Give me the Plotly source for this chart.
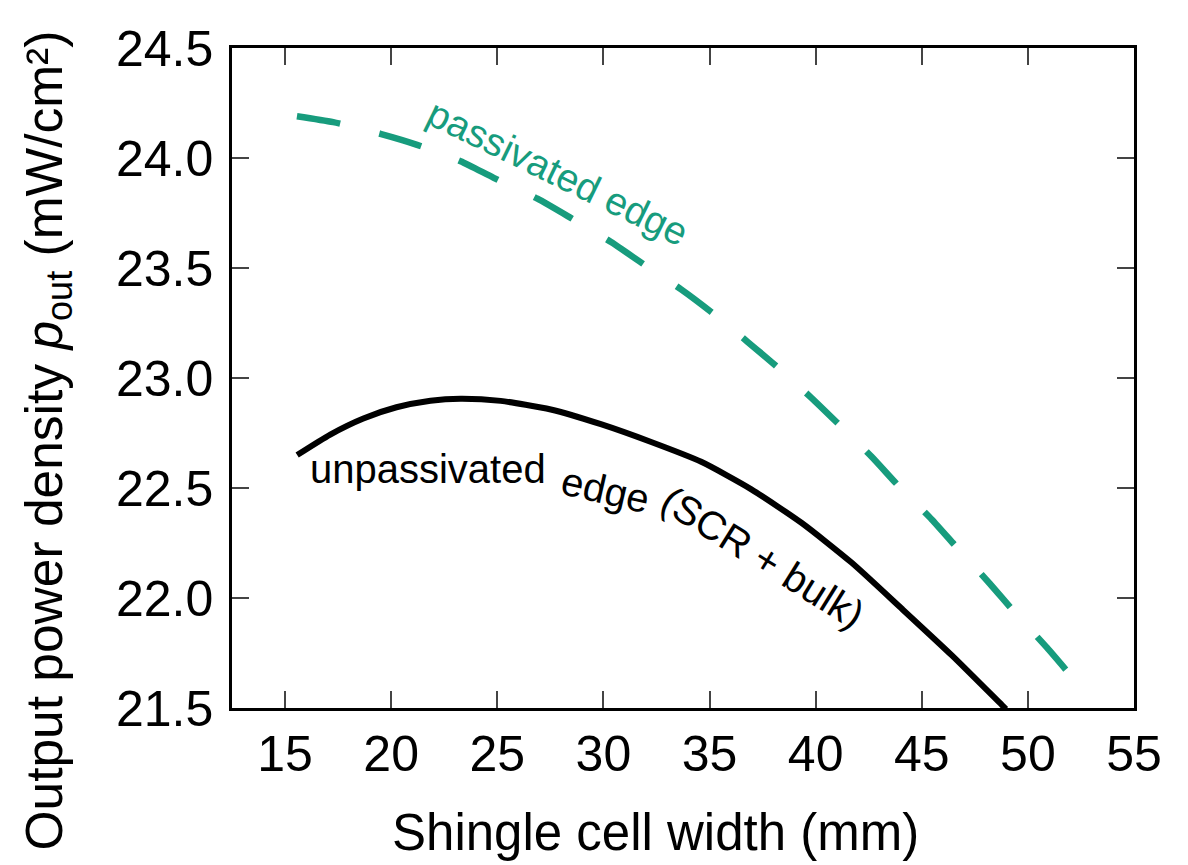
import plotly.graph_objects as go

# Data
unpass_x = [15.57, 17.13, 18.69, 20.25, 21.85, 23.27, 25.16, 27.52, 29.88, 32.25,
            34.61, 36.97, 39.33, 41.69, 44.05, 46.42, 48.78, 48.97]
unpass_y = [22.650, 22.743, 22.816, 22.867, 22.897, 22.906, 22.896, 22.857, 22.790, 22.709,
            22.619, 22.494, 22.342, 22.161, 21.952, 21.739, 21.513, 21.495]

pass_x = [15.56, 17.27, 19.49, 21.22, 23.27, 24.83, 26.89, 28.42, 30.36, 31.85, 33.66,
          35.08, 36.81, 38.07, 39.80, 40.98, 42.64, 43.90, 45.47, 46.65, 48.21, 49.33,
          50.90, 52.0]
pass_y = [24.19, 24.163, 24.110, 24.06, 23.985, 23.91, 23.815, 23.73, 23.618, 23.52, 23.403,
          23.30, 23.163, 23.06, 22.910, 22.80, 22.642, 22.51, 22.357, 22.23, 22.065, 21.94,
          21.774, 21.65]

x_ticks = [15, 20, 25, 30, 35, 40, 45, 50, 55]
y_ticks = [21.5, 22.0, 22.5, 23.0, 23.5, 24.0, 24.5]
y_ticklabels = ["21.5", "22.0", "22.5", "23.0", "23.5", "24.0", "24.5"]

GREEN = "#179C7D"
FONT = "Arial, Liberation Sans, Helvetica, sans-serif"

fig = go.Figure()
fig.add_trace(go.Scatter(x=unpass_x, y=unpass_y, mode="lines",
                         line=dict(color="black", width=6, shape="spline", smoothing=0.6),
                         showlegend=False, hoverinfo="skip"))
fig.add_trace(go.Scatter(x=pass_x, y=pass_y, mode="lines",
                         line=dict(color=GREEN, width=6.5, shape="spline", smoothing=0.6,
                                   dash="44px,40px"),
                         showlegend=False, hoverinfo="skip"))

# curved labels built from pieces
fig.add_annotation(x=27.85, y=23.935, xref="x", yref="y", text="passivated edge",
                   textangle=26, showarrow=False, font=dict(family=FONT, size=39, color=GREEN))
fig.add_annotation(x=21.73, y=22.585, xref="x", yref="y", text="unpassivated",
                   textangle=0, showarrow=False, font=dict(family=FONT, size=40, color="black"))
fig.add_annotation(x=30.12, y=22.49, xref="x", yref="y", text="edge",
                   textangle=13, showarrow=False, font=dict(family=FONT, size=40, color="black"))
fig.add_annotation(x=37.5, y=22.187, xref="x", yref="y", text="(SCR + bulk)",
                   textangle=32, showarrow=False, font=dict(family=FONT, size=40, color="black"))

# axis titles
fig.add_annotation(x=0.470, y=-0.189, xref="paper", yref="paper",
                   text="Shingle cell width (mm)", showarrow=False,
                   xanchor="center", yanchor="middle",
                   font=dict(family=FONT, size=51, color="black"))
fig.add_annotation(x=-0.2045, y=0.4045, xref="paper", yref="paper",
                   text="Output power density <i>p</i><sub>out</sub> (mW/cm²)",
                   showarrow=False, textangle=-90,
                   xanchor="center", yanchor="middle",
                   font=dict(family=FONT, size=51.5, color="black"))

fig.update_layout(
    width=1180, height=857,
    margin=dict(l=224, r=54, t=30, b=157),
    paper_bgcolor="white", plot_bgcolor="white",
    font=dict(family=FONT, size=50, color="black"),
    xaxis=dict(range=[12.5, 55], tickvals=x_ticks, ticks="inside", ticklen=17, tickwidth=2,
               showline=True, linewidth=2.5, linecolor="black", mirror="ticks",
               showgrid=False, zeroline=False, tickfont=dict(size=50),
               ticklabelstandoff=0),
    yaxis=dict(range=[21.5, 24.5], tickvals=y_ticks, ticktext=y_ticklabels, ticks="inside",
               ticklen=17, tickwidth=2,
               showline=True, linewidth=2.5, linecolor="black", mirror="ticks",
               showgrid=False, zeroline=False, tickfont=dict(size=50),
               ticklabelstandoff=6),
)

fig.write_html("out.html")
